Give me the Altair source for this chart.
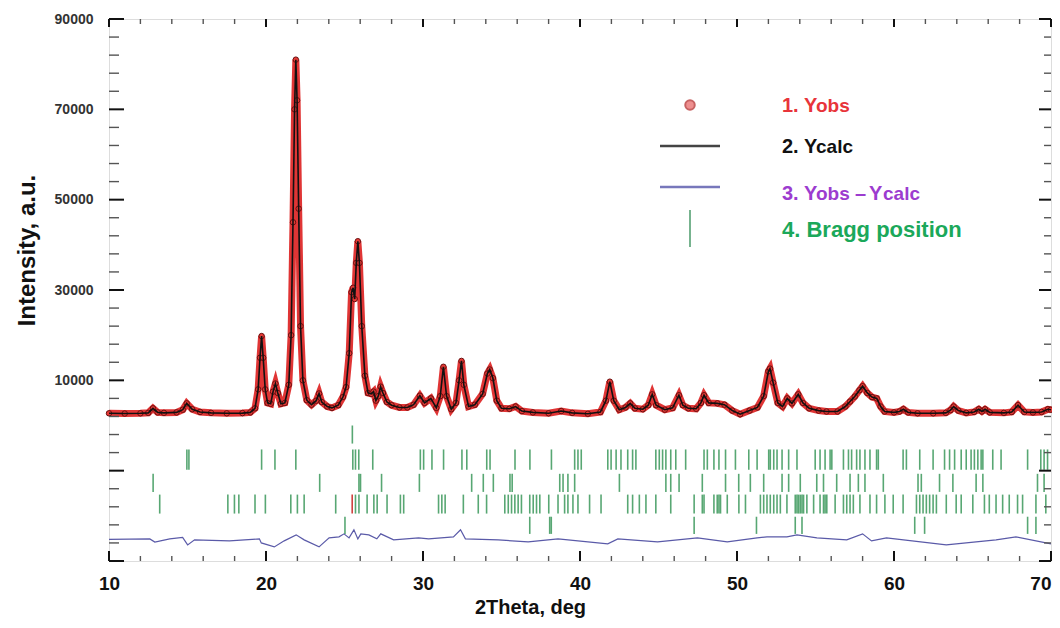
import altair as alt
import pandas as pd

# ---------------- data ----------------
two_theta = [10.0, 11.0, 12.0, 12.5, 12.8, 13.1, 13.5, 14.3, 14.7, 14.95, 15.3, 15.8, 16.5, 17.5,
             18.5, 19.0, 19.3, 19.5, 19.62, 19.72, 19.82, 19.95, 20.1, 20.3, 20.45, 20.6, 20.75,
             20.95, 21.2, 21.45, 21.6, 21.72, 21.82, 21.9, 21.98, 22.08, 22.2, 22.35, 22.6, 22.9,
             23.2, 23.38, 23.55, 23.9, 24.2, 24.6, 24.9, 25.1, 25.3, 25.45, 25.55, 25.65, 25.75,
             25.85, 25.95, 26.1, 26.3, 26.5, 26.7, 26.85, 27.0, 27.15, 27.3, 27.45, 27.7, 28.0,
             28.5, 29.0, 29.4, 29.8, 30.1, 30.5, 30.85, 31.1, 31.3, 31.5, 31.8, 32.1, 32.3, 32.45,
             32.6, 32.9, 33.3, 33.8, 34.1, 34.25, 34.45, 34.7, 35.0, 35.5, 35.9, 36.3, 37.0, 38.0,
             38.8, 39.5, 40.5, 41.3, 41.65, 41.9, 42.15, 42.5, 42.9, 43.2, 43.5, 44.0, 44.35, 44.6,
             44.85, 45.4, 45.9, 46.3, 46.55, 46.9, 47.4, 47.7, 47.9, 48.2, 48.75, 49.2, 49.7, 50.2,
             50.8, 51.3, 51.7, 52.0, 52.1, 52.3, 52.6, 52.9, 53.2, 53.5, 53.9, 54.2, 54.6, 55.2,
             55.7, 56.4, 56.9, 57.2, 57.5, 57.8, 58.0, 58.3, 58.6, 58.9, 59.15, 59.4, 60.0, 60.35,
             60.6, 60.9, 61.5, 62.5, 63.3, 63.6, 63.8, 64.1, 64.6, 65.1, 65.4, 65.6, 65.8, 66.1,
             67.0, 67.5, 67.9, 68.3, 68.85, 69.4, 69.8, 70.0]
y_obs = [2700, 2650, 2700, 2800, 3800, 2900, 2800, 2900, 3500, 4900, 3600, 3000, 2800, 2700,
         2750, 2900, 3800, 8000, 15000, 19800, 15000, 8000, 5000, 4800, 7500, 9300, 7200,
         4800, 5000, 9000, 20000, 45000, 70000, 81000, 72000, 48000, 22000, 10000, 5600, 4600,
         5500, 7100, 5200, 4200, 3900, 4500, 6300, 8500, 16000, 29500, 30500, 28000, 36000,
         40800, 36000, 22000, 11000, 7200, 7000, 7500, 5500, 6500, 8600, 7200, 5200, 4500,
         4000, 4000, 4600, 6600, 5000, 6000, 3900, 6500, 13000, 6500, 3600, 5000, 10000, 14300,
         9000, 4200, 4600, 7000, 11500, 12400, 10500, 5500, 3800, 3700, 4200, 3200, 2900, 2700,
         3200, 2800, 2600, 3000, 5500, 9700, 5500, 3500, 4000, 4900, 3800, 3600, 4500, 6900,
         4500, 3500, 3900, 6700, 4500, 3800, 3700, 5000, 6700, 5000, 4900, 4600, 3300, 2500,
         3300, 4000, 6500, 12000, 12600, 9500, 5000, 4200, 6000, 4900, 6900, 5000, 3800, 3300,
         3100, 3100, 4200, 5300, 6400, 7800, 8700, 7200, 6300, 6000, 4200, 3100, 2900, 3100,
         3600, 2900, 2700, 2700, 2800, 3400, 4200, 3300, 2800, 3000, 3600, 3100, 3600, 2900,
         2800, 3000, 4500, 3000, 2900, 3000, 3600, 3500]
y_calc = list(y_obs)

diff_theta = [10.0, 12.6, 12.92, 13.87, 14.69, 15.01, 15.45, 17.67, 19.58, 19.70, 20.53, 21.16,
              21.92, 22.43, 23.38, 24.02, 24.65, 24.97, 25.29, 25.60, 25.85, 26.04, 26.55, 27.06,
              27.31, 28.13, 29.72, 30.36, 31.94, 32.39, 32.70, 34.79, 36.70, 38.60, 41.77, 42.41,
              44.94, 47.48, 49.38, 51.28, 51.91, 53.18, 53.82, 55.09, 56.99, 58.00, 58.57, 59.52,
              63.33, 66.50, 67.77, 70.0]
y_diff = [-25200, -25100, -25800, -25100, -24770, -26430, -25320, -25540, -25100, -25990, -26880,
          -25540, -24210, -25320, -26880, -24880, -24660, -23990, -24880, -23100, -25100, -23990,
          -24210, -25100, -23990, -25320, -24880, -25100, -24660, -23100, -25100, -25320, -25770,
          -25100, -26210, -25100, -25770, -24880, -25770, -24880, -24660, -24660, -24210, -24880,
          -25320, -23990, -25540, -24880, -26430, -25320, -24660, -26210]

bragg_row0 = [25.50]
bragg_row1 = [14.96, 15.09, 19.72, 20.57, 21.90, 25.53, 25.70, 25.91, 26.80, 29.83, 30.04, 30.57,
              31.31, 32.48, 32.79, 34.06, 34.27, 35.86, 36.81, 38.18, 39.66, 39.87, 40.08, 41.77,
              41.98, 42.30, 42.61, 43.04, 43.35, 43.56, 44.83, 45.05, 45.26, 45.47, 45.78, 46.10,
              46.73, 47.90, 48.11, 48.53, 48.85, 49.27, 49.90, 50.75, 51.28, 52.02, 52.12, 52.34,
              52.55, 52.87, 53.29, 53.82, 54.98, 55.29, 55.61, 55.93, 56.04, 56.78, 57.10, 57.30,
              57.62, 57.83, 58.15, 58.47, 58.89, 59.00, 60.58, 60.79, 61.64, 62.49, 63.22, 63.54,
              63.86, 64.28, 64.60, 64.91, 65.12, 65.34, 65.55, 65.66, 66.29, 66.82, 68.51, 69.35,
              69.56, 69.78]
bragg_row2 = [12.81, 23.42, 25.92, 26.02, 27.36, 29.77, 33.10, 33.84, 34.48, 35.54, 35.68, 38.71,
              38.92, 39.23, 39.66, 42.51, 45.47, 45.78, 46.31, 47.79, 49.27, 50.11, 50.85, 51.70,
              52.87, 53.29, 54.03, 55.08, 55.51, 56.35, 57.20, 57.73, 58.15, 59.32, 61.53, 61.74,
              62.90, 63.75, 65.23, 65.66, 69.14, 69.56]
bragg_row3 = [13.23, 17.57, 17.99, 18.27, 19.30, 19.96, 21.58, 22.00, 22.43, 24.44, 25.70, 25.92,
              26.44, 26.87, 27.08, 27.71, 28.56, 28.77, 30.99, 31.20, 31.41, 32.57, 33.52, 34.05,
              35.21, 35.43, 35.64, 35.85, 36.06, 36.27, 36.80, 37.02, 37.23, 37.44, 38.01, 38.60,
              39.02, 39.23, 39.55, 39.87, 40.61, 41.34, 43.04, 43.35, 43.78, 44.20, 44.83, 45.78,
              47.27, 47.79, 47.90, 48.53, 48.74, 48.85, 48.95, 49.38, 50.12, 50.54, 51.49, 51.70,
              51.91, 52.12, 52.34, 52.55, 52.76, 53.18, 53.71, 53.82, 53.92, 54.03, 54.14, 54.24,
              54.45, 54.88, 55.29, 55.51, 55.61, 55.72, 56.25, 56.78, 56.99, 57.20, 57.41, 57.83,
              58.47, 58.89, 59.42, 59.95, 60.58, 61.43, 61.64, 61.85, 62.06, 62.27, 62.49, 62.70,
              63.33, 63.96, 64.28, 65.02, 65.76, 66.07, 66.50, 66.92, 67.34, 67.87, 68.19, 69.04,
              69.67]
bragg_row3_red = [25.49]
bragg_row4 = [25.03, 36.80, 38.07, 38.17, 47.27, 51.24, 53.71, 54.14, 61.32, 61.95, 68.51, 69.04]
bragg_top = [0, -5300, -10700, -15300, -20200]
bragg_bottom = [-4000, -9800, -14700, -19500, -24000]

x_major = [10, 20, 30, 40, 50, 60, 70]
x_minor = [v for v in range(12, 70, 2) if v % 10 != 0]
y_labels = [10000, 30000, 50000, 70000, 90000]
y_major = [-30000, -10000, 10000, 30000, 50000, 70000, 90000]
y_minor = [v for v in range(-26000, 90000, 4000) if (v - 10000) % 20000 != 0]

# ---------------- layout ----------------
W, H = 942, 542
FONT = "Liberation Sans"
RED, PURPLE, GREEN, BLUE = "#e8343a", "#9c3ccf", "#1ba85a", "#5a5aa8"

profile = pd.DataFrame({"t": two_theta, "obs": y_obs, "calc": y_calc})
diff = pd.DataFrame({"t": diff_theta, "d": y_diff})

rows = []
for i, row in enumerate([bragg_row0, bragg_row1, bragg_row2, bragg_row3, bragg_row4]):
    for p in row:
        rows.append({"t": p, "top": bragg_top[i], "bot": bragg_bottom[i]})
bragg = pd.DataFrame(rows)
bragg_red = pd.DataFrame({"t": bragg_row3_red, "top": [bragg_top[3]], "bot": [bragg_bottom[3]]})

xscale = alt.Scale(domain=[10, 70], nice=False, zero=False)
yscale = alt.Scale(domain=[-30000, 90000], nice=False, zero=False)

X = alt.X("t:Q", scale=xscale,
          axis=alt.Axis(values=x_major, title="2Theta, deg", grid=False, ticks=False, tickSize=0,
                        domain=False, labelFontSize=19, labelFontWeight="bold", labelColor="#111",
                        labelPadding=13, labelFlush=False,
                        labelAlign={"expr": "datum.value >= 70 ? 'right' : 'center'"},
                        titleFontSize=20, titleFontWeight="bold", titleColor="#111",
                        titleX=421, titleY=52, titleBaseline="alphabetic"))
base = alt.Chart(profile)

band = base.mark_line(color="#dd1f1f", strokeWidth=7, opacity=0.9).encode(
    x=X,
    y=alt.Y("obs:Q", scale=yscale,
            axis=alt.Axis(values=y_labels, format="d", title="Intensity, a.u.", grid=False,
                          ticks=False, tickSize=0, domain=False, labelFontSize=14,
                          labelFontWeight="bold", labelColor="#333", labelPadding=16,
                          titleFontSize=24, titleFontWeight="bold", titleColor="#111",
                          titleX=-82, titleY=231, titleAngle=270, titleBaseline="middle")))
pts = base.mark_point(shape="circle", size=30, filled=True, fill="#e53935", stroke="#6b0f0f",
                      strokeWidth=1, opacity=1).encode(x="t:Q", y="obs:Q")
calc = base.mark_line(color="#111", strokeWidth=1.6).encode(x="t:Q", y="calc:Q")
resid = alt.Chart(diff).mark_line(color=BLUE, strokeWidth=1.2).encode(x="t:Q", y="d:Q")
bticks = alt.Chart(bragg).mark_rule(color="#2e9150", strokeWidth=1.6, opacity=0.8).encode(
    x="t:Q", y="top:Q", y2="bot:Q")
bred = alt.Chart(bragg_red).mark_rule(color="#d04040", strokeWidth=1.6).encode(
    x="t:Q", y="top:Q", y2="bot:Q")

# frame ticks (inward), positioned by the library scales
def vals(v):
    return pd.DataFrame({"v": v})

tk = []
tk.append(alt.Chart(vals(y_major)).mark_rule(color="#111", strokeWidth=2).encode(
    y="v:Q", x=alt.value(0), x2=alt.value(15)))
tk.append(alt.Chart(vals(y_minor)).mark_rule(color="#555", strokeWidth=1.4).encode(
    y="v:Q", x=alt.value(0), x2=alt.value(10)))
tk.append(alt.Chart(vals(y_major)).mark_rule(color="#111", strokeWidth=2).encode(
    y="v:Q", x=alt.value(W), x2=alt.value(W - 12)))
tk.append(alt.Chart(vals(y_minor)).mark_rule(color="#555", strokeWidth=1.4).encode(
    y="v:Q", x=alt.value(W), x2=alt.value(W - 7)))
tk.append(alt.Chart(vals(x_major)).mark_rule(color="#111", strokeWidth=2).encode(
    x="v:Q", y=alt.value(H), y2=alt.value(H - 10)))
tk.append(alt.Chart(vals(x_minor)).mark_rule(color="#555", strokeWidth=1.4).encode(
    x="v:Q", y=alt.value(H), y2=alt.value(H - 5)))
tk.append(alt.Chart(vals(x_major)).mark_rule(color="#111", strokeWidth=2).encode(
    x="v:Q", y=alt.value(0), y2=alt.value(8)))
tk.append(alt.Chart(vals(x_minor)).mark_rule(color="#555", strokeWidth=1.4).encode(
    x="v:Q", y=alt.value(0), y2=alt.value(5)))

# legend (annotation inside the plot)
one = pd.DataFrame({"k": [0]})
leg = []
leg.append(alt.Chart(one).mark_point(shape="circle", size=90, filled=True, fill="#e86060",
                                     stroke="#b02020", strokeWidth=2).encode(
    x=alt.value(581), y=alt.value(86)))
leg.append(alt.Chart(one).mark_rule(color="#444", strokeWidth=2.5).encode(
    x=alt.value(551), x2=alt.value(611), y=alt.value(127)))
leg.append(alt.Chart(one).mark_rule(color="#7777bb", strokeWidth=2.5).encode(
    x=alt.value(551), x2=alt.value(611), y=alt.value(168)))
leg.append(alt.Chart(one).mark_rule(color="#4a9a6a", strokeWidth=1.5).encode(
    x=alt.value(581), y=alt.value(191), y2=alt.value(228)))
frags = [("1. Y", 673, 93, 20, RED), ("obs", 707, 93, 19, RED),
         ("2. Y", 673, 134, 20, "#111"), ("calc", 707, 134, 19, "#111"),
         ("3. Y", 673, 181, 20, PURPLE), ("obs", 707, 181, 19, PURPLE),
         ("\u2013", 746, 181, 20, PURPLE), ("Y", 760, 181, 20, PURPLE),
         ("calc", 774, 181, 19, PURPLE),
         ("4. Bragg position", 673, 218, 22, GREEN)]
for txt, px, py, fs, col in frags:
    leg.append(alt.Chart(one).mark_text(text=txt, font=FONT, fontSize=fs, fontWeight="bold",
                                        color=col, align="left", baseline="alphabetic").encode(
        x=alt.value(px), y=alt.value(py)))

chart = alt.layer(band, pts, calc, resid, bticks, bred, *tk, *leg).properties(
    width=W, height=H,
    autosize=alt.AutoSizeParams(type="none"),
    padding={"left": 101, "top": 11, "right": 1, "bottom": 59},
).configure_view(stroke="#111", strokeWidth=2.5).configure_axis(
    labelFont=FONT, titleFont=FONT
).configure(background="white")

chart.save("out.html", embed_options={"renderer": "svg", "actions": False})
